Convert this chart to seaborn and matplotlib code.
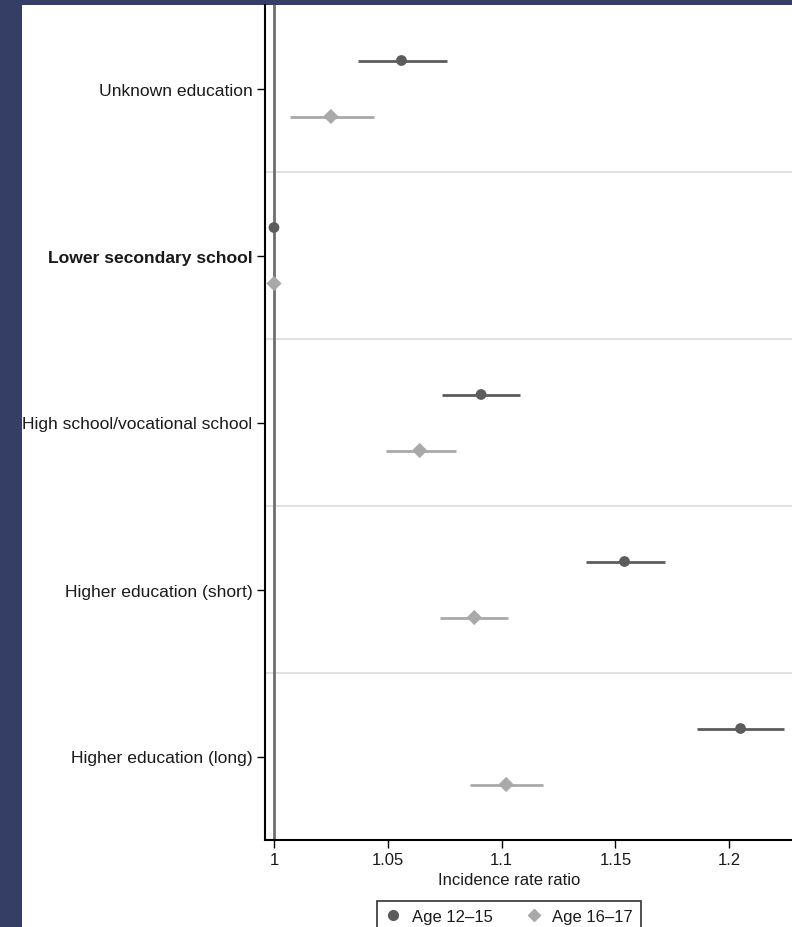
import matplotlib
matplotlib.use("Agg")
import matplotlib.pyplot as plt
import matplotlib.patches as mpatches
from matplotlib.lines import Line2D
import numpy as np
import pandas as pd
import seaborn as sns

# Education categories (top to bottom)
categories = [
    "Unknown education",
    "Lower secondary school",
    "High school/vocational school",
    "Higher education (short)",
    "Higher education (long)",
]
reference_category = "Lower secondary school"

# Incidence rate ratios with 95% CI, age 12-15
irr_12_15 = [1.056, 1.000, 1.091, 1.154, 1.205]
lo_12_15 = [1.037, 1.000, 1.074, 1.137, 1.186]
hi_12_15 = [1.076, 1.000, 1.108, 1.172, 1.224]

# Incidence rate ratios with 95% CI, age 16-17
irr_16_17 = [1.025, 1.000, 1.064, 1.088, 1.102]
lo_16_17 = [1.007, 1.000, 1.049, 1.073, 1.086]
hi_16_17 = [1.044, 1.000, 1.080, 1.103, 1.118]

groups = ["Age 12\u201315", "Age 16\u201317"]
xticks = [1, 1.05, 1.1, 1.15, 1.2]
xtick_labels = ["1", "1.05", "1.1", "1.15", "1.2"]

sns.set_theme(style="white")
plt.rcParams["font.family"] = ["Liberation Sans", "DejaVu Sans"]

W, H = 792, 928
fig = plt.figure(figsize=(W / 100, H / 100), dpi=100)
fig.patch.set_facecolor("#353f66")
fig.patches.append(mpatches.Rectangle((22 / W, 0), 1 - 22 / W, 1 - 6 / H,
                                      transform=fig.transFigure,
                                      facecolor="white", edgecolor="none", zorder=-10))

ax = fig.add_axes([265 / W, 1 - 841 / H, (W - 265) / W, (841 - 6) / H])
ax.set_facecolor("white")
ax.set_zorder(1)

offset = 28 / 167
rows = []
for i, cat in enumerate(categories):
    rows.append(dict(cat=cat, group=groups[0], irr=irr_12_15[i], lo=lo_12_15[i],
                     hi=hi_12_15[i], ypos=i - offset))
    rows.append(dict(cat=cat, group=groups[1], irr=irr_16_17[i], lo=lo_16_17[i],
                     hi=hi_16_17[i], ypos=i + offset))
df = pd.DataFrame(rows)

colors = {groups[0]: "#5c5c5c", groups[1]: "#a9a9a9"}
markers = {groups[0]: "o", groups[1]: "D"}

# band separators
for b in np.arange(0.5, len(categories) - 0.5, 1.0):
    ax.axhline(b, color="#dcdcdc", lw=1.2, zorder=1)

# reference line at IRR = 1
ax.axvline(1.0, color="#6e6e6e", lw=2.0, zorder=2)

# confidence intervals
for g in groups:
    sub = df[df.group == g]
    ax.hlines(sub.ypos, sub.lo, sub.hi, color=colors[g], lw=2.0, zorder=3)

sns.scatterplot(data=df, x="irr", y="ypos", hue="group", style="group",
                palette=colors, markers=markers, s=60, edgecolor="none",
                legend=False, ax=ax, zorder=4)

ax.set_xlim(0.99605, 1.2276)
ax.set_ylim(len(categories) - 0.5, -0.5)
ax.set_xticks(xticks)
ax.set_xticklabels(xtick_labels, fontsize=12, color="#1a1a1a")
ax.set_yticks(range(len(categories)))
ax.set_yticklabels(categories, fontsize=12.6, color="#1a1a1a")
for lab in ax.get_yticklabels():
    if lab.get_text() == reference_category:
        lab.set_fontweight("bold")

ax.tick_params(axis="both", which="major", length=6, width=1.0, color="black",
               left=True, bottom=True, pad=3)
for s in ["top", "right"]:
    ax.spines[s].set_visible(False)
for s in ["left", "bottom"]:
    ax.spines[s].set_color("black")
    ax.spines[s].set_linewidth(1.5)

ax.set_xlabel("Incidence rate ratio", fontsize=12, color="#1a1a1a")
ax.set_ylabel("")
ax.xaxis.set_label_coords((509 - 265) / (W - 265), -0.038)

handles = [
    Line2D([], [], marker="o", color=colors[groups[0]], ls="none", markersize=7),
    Line2D([], [], marker="D", color=colors[groups[1]], ls="none", markersize=6.5),
]
leg = fig.legend(handles, groups, loc="upper center", bbox_to_anchor=(509 / W, 1 - 894 / H),
                 ncol=2, frameon=True, fancybox=False, fontsize=12,
                 handlelength=1.0, handletextpad=0.6, columnspacing=2.0, borderpad=0.45)
leg.get_frame().set_edgecolor("black")
leg.get_frame().set_linewidth(1.2)
for t in leg.get_texts():
    t.set_color("#1a1a1a")

fig.savefig("out.png", dpi=100, facecolor=fig.get_facecolor())
